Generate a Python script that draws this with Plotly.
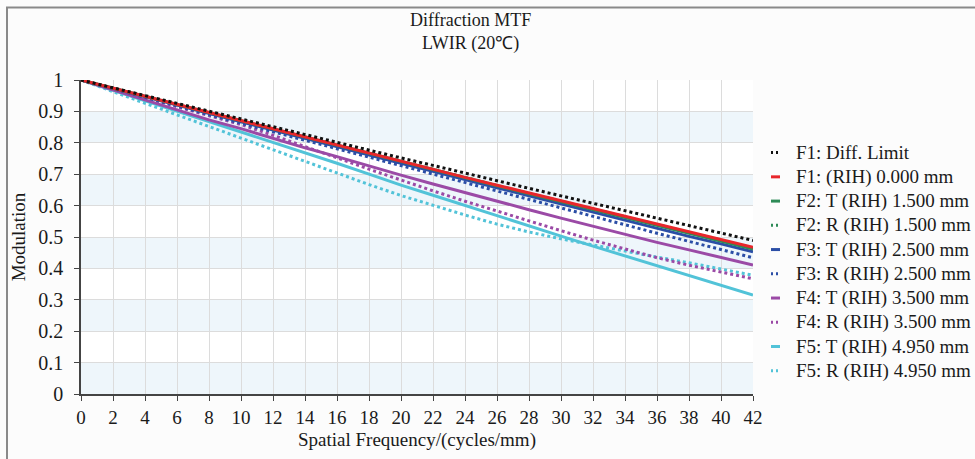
import plotly.graph_objects as go

# ---------------- data ----------------
freq = [0, 2, 4, 6, 8, 10, 12, 14, 16, 18, 20, 22, 24, 26, 28, 30, 32, 34, 36, 38, 40, 42]

diff_limit = [1.000, 0.975, 0.950, 0.925, 0.900, 0.875, 0.851, 0.826, 0.801, 0.777, 0.752,
              0.728, 0.703, 0.679, 0.655, 0.631, 0.607, 0.583, 0.559, 0.535, 0.512, 0.489]
f1_axis = [1.000, 0.974, 0.948, 0.922, 0.896, 0.870, 0.845, 0.819, 0.793, 0.768, 0.742,
           0.716, 0.690, 0.665, 0.640, 0.615, 0.590, 0.565, 0.540, 0.515, 0.491, 0.467]
f2_t = [1.000, 0.974, 0.948, 0.922, 0.895, 0.869, 0.844, 0.818, 0.792, 0.766, 0.740,
        0.714, 0.688, 0.663, 0.638, 0.613, 0.588, 0.563, 0.537, 0.512, 0.487, 0.462]
f2_r = [1.000, 0.974, 0.948, 0.922, 0.896, 0.870, 0.844, 0.819, 0.793, 0.767, 0.741,
        0.715, 0.689, 0.664, 0.639, 0.614, 0.589, 0.564, 0.539, 0.514, 0.489, 0.465]
f3_t = [1.000, 0.973, 0.947, 0.920, 0.893, 0.867, 0.841, 0.814, 0.787, 0.762, 0.735,
        0.709, 0.682, 0.657, 0.631, 0.605, 0.579, 0.554, 0.528, 0.502, 0.478, 0.453]
f3_r = [1.000, 0.972, 0.945, 0.917, 0.890, 0.862, 0.835, 0.808, 0.780, 0.753, 0.726,
        0.699, 0.672, 0.645, 0.618, 0.592, 0.565, 0.538, 0.512, 0.486, 0.460, 0.434]
f4_t = [1.000, 0.968, 0.935, 0.903, 0.873, 0.845, 0.814, 0.784, 0.756, 0.726, 0.697,
        0.669, 0.641, 0.614, 0.587, 0.560, 0.534, 0.508, 0.483, 0.459, 0.435, 0.411]
f4_r = [1.000, 0.972, 0.943, 0.915, 0.886, 0.858, 0.824, 0.789, 0.752, 0.716, 0.681,
        0.647, 0.614, 0.582, 0.551, 0.520, 0.490, 0.461, 0.434, 0.410, 0.388, 0.367]
f5_t = [1.000, 0.967, 0.935, 0.902, 0.869, 0.834, 0.801, 0.768, 0.735, 0.700, 0.665,
        0.633, 0.600, 0.567, 0.535, 0.503, 0.471, 0.440, 0.409, 0.377, 0.346, 0.315]
f5_r = [1.000, 0.963, 0.926, 0.889, 0.852, 0.815, 0.778, 0.740, 0.703, 0.667, 0.632,
        0.600, 0.570, 0.541, 0.516, 0.494, 0.474, 0.455, 0.436, 0.418, 0.398, 0.378]

series_names = ["F1: Diff. Limit", "F1: (RIH) 0.000 mm",
                "F2: T (RIH) 1.500 mm", "F2: R (RIH) 1.500 mm",
                "F3: T (RIH) 2.500 mm", "F3: R (RIH) 2.500 mm",
                "F4: T (RIH) 3.500 mm", "F4: R (RIH) 3.500 mm",
                "F5: T (RIH) 4.950 mm", "F5: R (RIH) 4.950 mm"]
series_values = [diff_limit, f1_axis, f2_t, f2_r, f3_t, f3_r, f4_t, f4_r, f5_t, f5_r]
series_colors = ["#111111", "#e8262b", "#2e8b57", "#2e8b57", "#2b4ea6", "#2b4ea6",
                 "#9b4aa6", "#9b4aa6", "#52c3d8", "#52c3d8"]
series_dotted = [True, False, False, True, False, True, False, True, False, True]

x_ticks = list(range(0, 43, 2))
y_ticks = [round(i * 0.1, 1) for i in range(11)]
y_tick_text = ["0", "0.1", "0.2", "0.3", "0.4", "0.5", "0.6", "0.7", "0.8", "0.9", "1"]

# ---------------- figure ----------------
FONT = "Liberation Serif"
W, H = 975, 459
L, R, T, B = 81, 222, 80, 59
PW, PH = W - L - R, H - T - B


def px_x(p):
    return (p - L) / PW


def px_y(p):
    return (H - B - p) / PH


fig = go.Figure()

draw_order = [8, 9, 6, 7, 4, 5, 2, 3, 1, 0]
for i in draw_order:
    fig.add_trace(go.Scatter(
        x=freq, y=series_values[i], mode="lines", name=series_names[i],
        showlegend=False,
        line=dict(color=series_colors[i], width=3,
                  dash="3px,3px" if series_dotted[i] else "solid"),
    ))

shapes = []
# alternating light-blue bands
for k in range(0, 10, 2):
    shapes.append(dict(type="rect", xref="x", yref="y", x0=0, x1=42,
                       y0=y_ticks[k], y1=y_ticks[k + 1], fillcolor="#eef6fb",
                       line=dict(width=0), layer="below"))
# outer frame (partially cropped in the picture)
shapes.append(dict(type="rect", xref="paper", yref="paper",
                   x0=px_x(7), x1=px_x(W + 20), y0=px_y(H + 20), y1=px_y(6),
                   line=dict(color="#8a8a8a", width=2), fillcolor="rgba(0,0,0,0)",
                   layer="above"))

annotations = []
# manual legend
leg_y0, leg_dy = 154, 24.7
for j, name in enumerate(series_names):
    yy = px_y(leg_y0 + j * leg_dy)
    shapes.append(dict(type="line", xref="paper", yref="paper",
                       x0=px_x(771), x1=px_x(780), y0=yy, y1=yy,
                       line=dict(color=series_colors[j], width=3,
                                 dash="2px,3px" if series_dotted[j] else "solid")))
    annotations.append(dict(xref="paper", yref="paper", x=px_x(794), y=yy,
                            xanchor="left", yanchor="middle", showarrow=False,
                            text=name, font=dict(family=FONT, size=19, color="#1a1a1a")))

# title
annotations.append(dict(xref="paper", yref="paper", x=px_x(470), y=px_y(31),
                        xanchor="center", yanchor="middle", showarrow=False,
                        text="Diffraction MTF<br>LWIR (20℃)",
                        font=dict(family=FONT, size=18, color="#1a1a1a")))

fig.update_layout(
    width=W, height=H,
    margin=dict(l=L, r=R, t=T, b=B, pad=0),
    paper_bgcolor="#fcfcfc", plot_bgcolor="#ffffff",
    font=dict(family=FONT, size=18, color="#1a1a1a"),
    shapes=shapes, annotations=annotations, showlegend=False,
    xaxis=dict(range=[0, 42], tickvals=x_ticks, ticktext=[str(v) for v in x_ticks],
               showgrid=True, gridcolor="#dcdcdc", gridwidth=1,
               showline=True, linecolor="#444444", linewidth=1.5,
               ticks="outside", ticklen=5, tickcolor="#444444",
               tickfont=dict(family=FONT, size=19), zeroline=False,
               title=dict(text="Spatial Frequency/(cycles/mm)",
                          font=dict(family=FONT, size=19), standoff=6)),
    yaxis=dict(range=[0, 1], tickvals=y_ticks, ticktext=y_tick_text,
               showgrid=True, gridcolor="#dcdcdc", gridwidth=1,
               showline=True, linecolor="#444444", linewidth=1.5,
               ticks="outside", ticklen=5, tickcolor="#444444",
               ticklabelstandoff=7,
               tickfont=dict(family=FONT, size=20), zeroline=False,
               title=dict(text="Modulation", font=dict(family=FONT, size=19), standoff=8)),
)

fig.write_html("out.html")
